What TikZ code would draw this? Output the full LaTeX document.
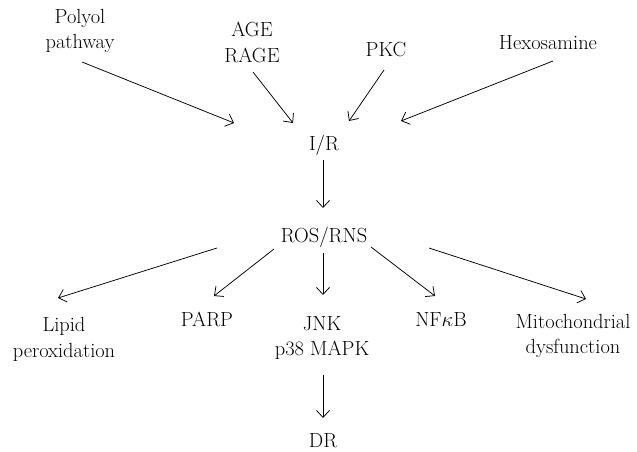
\documentclass[tikz,border=0pt]{standalone}
\usepackage{tikz}
\usetikzlibrary{calc,arrows.meta}

\begin{document}
\begin{tikzpicture}[x=1bp,y=-1bp,
        txt/.style={align=center, inner sep=1bp, font=\fontsize{20.5}{26}\selectfont},
        flow/.style={line width=0.75bp, -{Straight Barb[length=7bp,width=13bp]}}]
        \useasboundingbox (0,0) rectangle (637,452);
        % sources
        \node[txt] (polyol) at (80,31) {Polyol\\pathway};
        \node[txt] (age) at (252,42) {AGE\\RAGE};
        \node[txt] (pkc) at (386,49.5) {PKC};
        \node[txt] (hexo) at (548,43) {Hexosamine};
        % centre
        \node[txt] (ir) at (324,145) {I/R};
        \node[txt] (ros) at (324,237) {ROS/RNS};
        % targets
        \node[txt] (lipid) at (64,339) {Lipid\\peroxidation};
        \node[txt] (parp) at (207,319.5) {PARP};
        \node[txt] (jnk) at (322,338) {JNK\\p38 MAPK};
        \node[txt] (nfkb) at (441,319.5) {NF$\kappa$B};
        \node[txt] (mito) at (573,336) {Mitochondrial\\dysfunction};
        \node[txt] (dr) at (323,441) {DR};

        % into I/R
        \draw[flow] ($(polyol)+(2,31)$) -- ($(ir)+(-90,-22)$);
        \draw[flow] ($(age)+(1,30)$) -- ($(ir)+(-31,-22)$);
        \draw[flow] ($(pkc)+(-2,20.5)$) -- ($(ir)+(25,-24)$);
        \draw[flow] ($(hexo)+(5,18)$) -- ($(ir)+(77,-24)$);
        \draw[flow] ($(ir)+(-1,15)$) -- ($(ros)+(-1,-29)$);

        % out of ROS/RNS
        \draw[flow] ($(ros)+(-107,11)$) -- ($(lipid)+(-6,-41)$);
        \draw[flow] ($(ros)+(-50,12)$) -- ($(parp)+(7,-23.5)$);
        \draw[flow] ($(ros)+(-1,16)$) -- ($(jnk)+(1,-43)$);
        \draw[flow] ($(ros)+(47,10)$) -- ($(nfkb)+(-6,-23.5)$);
        \draw[flow] ($(ros)+(105,11)$) -- ($(mito)+(13,-37)$);
        \draw[flow] ($(jnk)+(1,37)$) -- ($(dr)+(0,-23)$);
    \end{tikzpicture}
\end{document}
